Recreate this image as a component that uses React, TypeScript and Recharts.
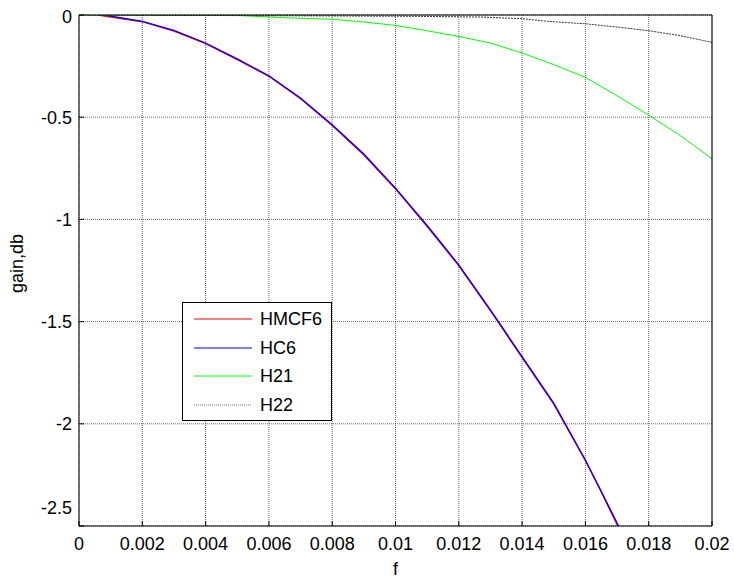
import React from "react";
import {
  LineChart,
  Line,
  XAxis,
  YAxis,
  CartesianGrid,
  Legend,
} from "recharts";

// frequency / gain pairs
const fHMCF6 = [0.0006, 0.002, 0.003, 0.004, 0.005, 0.006, 0.007, 0.008, 0.009, 0.01, 0.011, 0.012, 0.013, 0.014, 0.015, 0.016, 0.0165, 0.01702];
const gHMCF6 = [0, -0.033, -0.079, -0.14, -0.219, -0.3, -0.41, -0.541, -0.685, -0.851, -1.035, -1.227, -1.447, -1.676, -1.904, -2.181, -2.334, -2.5];

const fHC6 = [0.0008, 0.002, 0.003, 0.004, 0.005, 0.006, 0.007, 0.008, 0.009, 0.01, 0.011, 0.012, 0.013, 0.014, 0.015, 0.016, 0.0165, 0.01705];
const gHC6 = [0, -0.031, -0.075, -0.137, -0.215, -0.297, -0.406, -0.537, -0.68, -0.847, -1.03, -1.222, -1.443, -1.671, -1.899, -2.177, -2.33, -2.5];

const fH21 = [0, 0.005, 0.0066, 0.008, 0.009, 0.01, 0.011, 0.012, 0.013, 0.014, 0.015, 0.016, 0.017, 0.018, 0.019, 0.02];
const gH21 = [0, -0.002, -0.014, -0.021, -0.034, -0.051, -0.077, -0.105, -0.137, -0.186, -0.243, -0.305, -0.395, -0.49, -0.59, -0.703];

const fH22 = [0, 0.0103, 0.0127, 0.014, 0.0148, 0.016, 0.017, 0.018, 0.019, 0.02];
const gH22 = [0, -0.006, -0.01, -0.018, -0.031, -0.043, -0.059, -0.077, -0.101, -0.134];

const xTicks = [0, 0.002, 0.004, 0.006, 0.008, 0.01, 0.012, 0.014, 0.016, 0.018, 0.02];
const yTicks = [-2.5, -2, -1.5, -1, -0.5, 0];

const toPoints = (fs: number[], gs: number[]) => fs.map((f, i) => ({ f, g: gs[i] }));

const series = [
  { name: "HMCF6", color: "#ff0000", width: 1.3, dash: undefined, legendDash: undefined, data: toPoints(fHMCF6, gHMCF6) },
  { name: "HC6", color: "#0000ff", width: 1.3, dash: undefined, legendDash: undefined, data: toPoints(fHC6, gHC6) },
  { name: "H21", color: "#00ff00", width: 1, dash: undefined, legendDash: undefined, data: toPoints(fH21, gH21) },
  { name: "H22", color: "#333333", width: 1, dash: "2 1", legendDash: "1 1", data: toPoints(fH22, gH22) },
];

const FONT = "'Liberation Sans', Arial, sans-serif";
const tickStyle = { fontSize: 18, fill: "#000", fontFamily: FONT };

function YTick(props: any) {
  const { x, y, payload } = props;
  // matlab nudges the end labels inwards
  let shift = 0;
  if (payload.value === 0) shift = 2;
  if (payload.value === -2.5) shift = -18;
  return (
    <text x={x} y={y + shift} dy="0.355em" textAnchor="end" {...tickStyle}>
      {payload.value}
    </text>
  );
}

function LegendBox(props: any) {
  const order = series.map((s) => s.name);
  const items = [...(props.payload || [])].sort(
    (a: any, b: any) => order.indexOf(a.value) - order.indexOf(b.value)
  );
  return (
    <div style={{ width: 148, height: 117, border: "1px solid #000", background: "#fff" }}>
      <svg width={148} height={117}>
        {items.map((entry: any, i: number) => {
          const s = series.find((d) => d.name === entry.value);
          const cy = 16 + Math.round(i * 28.5);
          return (
            <g key={entry.value}>
              <line
                x1={11}
                x2={69}
                y1={cy}
                y2={cy}
                stroke={s ? s.color : entry.color}
                strokeOpacity={s && s.legendDash ? 0.7 : 1}
                strokeDasharray={s ? s.legendDash : undefined}
              />
              <text x={77} y={cy} dy="0.355em" {...tickStyle}>
                {entry.value}
              </text>
            </g>
          );
        })}
      </svg>
    </div>
  );
}

export default function App() {
  return (
    <div style={{ position: "absolute", left: 0, top: 0, width: 734, height: 580, background: "#fff", fontFamily: FONT }}>
      <LineChart width={734} height={580} margin={{ top: 0, right: 0, bottom: 0, left: 0 }}>
        <CartesianGrid stroke="#000" strokeOpacity={0.6} strokeDasharray="1 1" />

        <XAxis
          dataKey="f"
          type="number"
          domain={[0, 0.02]}
          ticks={xTicks}
          allowDataOverflow
          height={54}
          tickSize={-5}
          tickMargin={16}
          tick={tickStyle}
          axisLine={{ stroke: "#000" }}
          tickLine={{ stroke: "#000" }}
          label={{
            content: (p: any) => (
              <text x={p.viewBox.x + p.viewBox.width / 2} y={p.viewBox.y + 49} textAnchor="middle" {...tickStyle}>
                f
              </text>
            ),
          }}
        />
        <XAxis
          xAxisId="top"
          orientation="top"
          type="number"
          domain={[0, 0.02]}
          ticks={xTicks}
          height={15}
          tickSize={-5}
          tick={false}
          axisLine={{ stroke: "#000" }}
          tickLine={{ stroke: "#000" }}
        />
        <YAxis
          type="number"
          domain={[-2.5, 0]}
          ticks={yTicks}
          allowDataOverflow
          width={79}
          tickSize={-5}
          tickMargin={12}
          tick={<YTick />}
          axisLine={{ stroke: "#000" }}
          tickLine={{ stroke: "#000" }}
          label={{
            content: (p: any) => {
              const cx = 23;
              const cy = p.viewBox.y + p.viewBox.height / 2 - 7;
              return (
                <text x={cx} y={cy} textAnchor="middle" transform={`rotate(-90 ${cx} ${cy})`} {...tickStyle}>
                  gain,db
                </text>
              );
            },
          }}
        />
        <YAxis
          yAxisId="right"
          orientation="right"
          type="number"
          domain={[-2.5, 0]}
          ticks={yTicks}
          width={22}
          tickSize={-5}
          tick={false}
          axisLine={{ stroke: "#000" }}
          tickLine={{ stroke: "#000" }}
        />

        {series.map((s) => (
          <Line
            key={s.name}
            data={s.data}
            dataKey="g"
            name={s.name}
            type="linear"
            stroke={s.color}
            strokeWidth={s.width}
            strokeDasharray={s.dash}
            dot={false}
            activeDot={false}
            isAnimationActive={false}
          />
        ))}

        <Legend
          layout="vertical"
          align="center"
          verticalAlign="middle"
          content={<LegendBox />}
          wrapperStyle={{ left: 182, top: 302, width: 150, height: 119 }}
        />
      </LineChart>
    </div>
  );
}
